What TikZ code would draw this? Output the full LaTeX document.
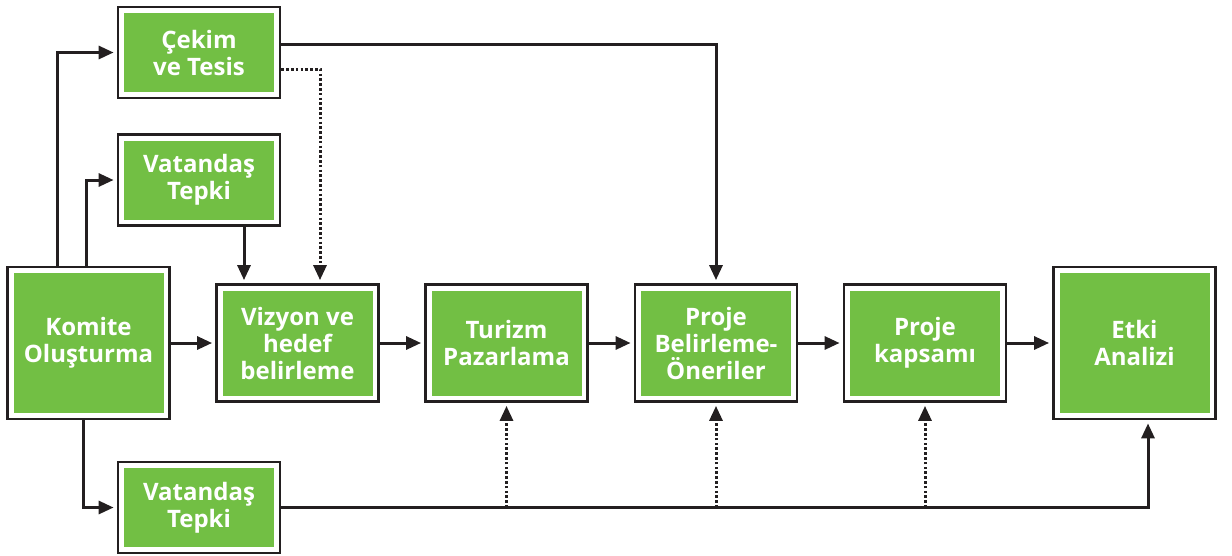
\documentclass[tikz,border=0pt]{standalone}
\usepackage{fontspec}
\setmainfont{Open Sans}
\usetikzlibrary{arrows.meta,calc}
\definecolor{boxgreen}{HTML}{72BF44}
\definecolor{ink}{HTML}{231F20}
\tikzset{
  stage/.style={draw=ink, line width=2.8pt, fill=white, inner sep=0pt,
    minimum width=162pt, minimum height=#1, align=center, text=white,
    font=\fontsize{24pt}{27pt}\selectfont\bfseries,
    path picture={\fill[boxgreen] ([shift={(6pt,-6pt)}]path picture bounding box.north west) rectangle ([shift={(-6pt,6pt)}]path picture bounding box.south east);}},
  flow/.style={draw=ink, line width=3pt, -{Triangle[length=15pt,width=13pt]}, shorten >=3pt},
  dots/.style={draw=ink, line width=3pt, dash pattern=on 2.6pt off 2.2pt, -{Triangle[length=15pt,width=13pt]}, shorten >=3pt}
}
\begin{document}
\begin{tikzpicture}[x=1pt,y=-1pt]
\useasboundingbox (0,0) rectangle (1232,555);
\node[stage=91pt] (cek) at (199,52.5) {Çekim\\ve Tesis};
\node[stage=91pt] (vt1) at (199,180) {Vatandaş\\Tepki};
\node[stage=152pt] (kom) at (88.5,343) {Komite\\Oluşturma};
\node[stage=117pt] (viz) at (297.5,343) {Vizyon ve\\hedef\\belirleme};
\node[stage=91pt] (vt2) at (199,507.5) {Vatandaş\\Tepki};
\node[stage=117pt] (tur) at (506.5,343) {Turizm\\Pazarlama};
\node[stage=117pt] (pb) at (716,343) {Proje\\Belirleme-\\Öneriler};
\node[stage=117pt] (pk) at (925,343) {Proje\\kapsamı};
\node[stage=152pt] (etk) at (1134.5,343) {Etki\\Analizi};

\coordinate (c1) at (57,0);
\coordinate (c2) at (86,0);
\coordinate (c3) at (83,0);
\coordinate (c4) at (320,0);
\coordinate (c5) at (244,0);
\coordinate (c6) at (1148,0);

% main row
\draw[flow] (kom.east) -- (viz.west);
\draw[flow] (viz.east) -- (tur.west);
\draw[flow] (tur.east) -- (pb.west);
\draw[flow] (pb.east) -- (pk.west);
\draw[flow] (pk.east) -- (etk.west);

% from Komite
\draw[flow] (kom.north -| c1) |- (cek.west);
\draw[flow] (kom.north -| c2) |- (vt1.west);
\draw[flow] (kom.south -| c3) |- (vt2.west);

% from Cekim
\draw[flow] ([yshift=8.5pt]cek.east) -| (pb.north);
\draw[dots] ([yshift=-16.5pt]cek.east) -| (viz.north -| c4);

% from top Vatandas
\draw[flow] (vt1.south -| c5) -- (viz.north -| c5);

% from bottom Vatandas
\draw[flow] (vt2.east) -| (etk.south -| c6);
\draw[dots] (vt2.east -| tur.south) -- (tur.south);
\draw[dots] (vt2.east -| pb.south) -- (pb.south);
\draw[dots] (vt2.east -| pk.south) -- (pk.south);
\end{tikzpicture}
\end{document}
